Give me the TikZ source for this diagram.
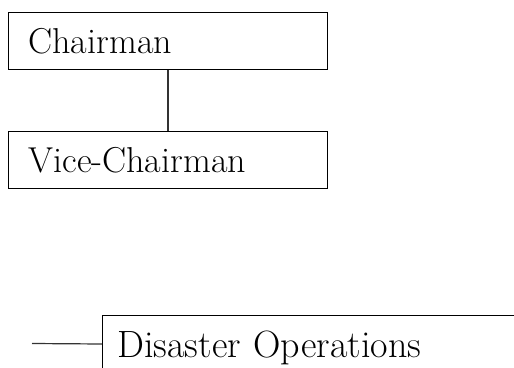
\documentclass[tikz,border=0pt]{standalone}
\usepackage{tikz}

\begin{document}
\begin{tikzpicture}[x=1pt,y=-1pt,
    post/.style={draw,line width=1pt,anchor=north west,minimum height=57pt,
      inner xsep=20pt,inner ysep=0pt,align=left,text depth=0pt,
      font=\fontsize{36}{40}\selectfont},
    link/.style={line width=1.2pt,black!80}]
  \useasboundingbox (0,0) rectangle (514,367);
  \clip (0,0) rectangle (514,367);
  \node[post,text width=279pt] (chair) at (8,12) {Chairman};
  \node[post,text width=279pt] (vice) at (8,131) {Vice-Chairman};
  \node[post,inner xsep=15pt,text width=420pt,
    font=\fontsize{38}{42}\selectfont] (ops) at (102,315) {Disaster Operations};
  \coordinate (feed) at (32,343.5);
  \draw[link] (chair) -- (vice);
  \draw[link] (feed) -- (ops.west);
\end{tikzpicture}
\end{document}
